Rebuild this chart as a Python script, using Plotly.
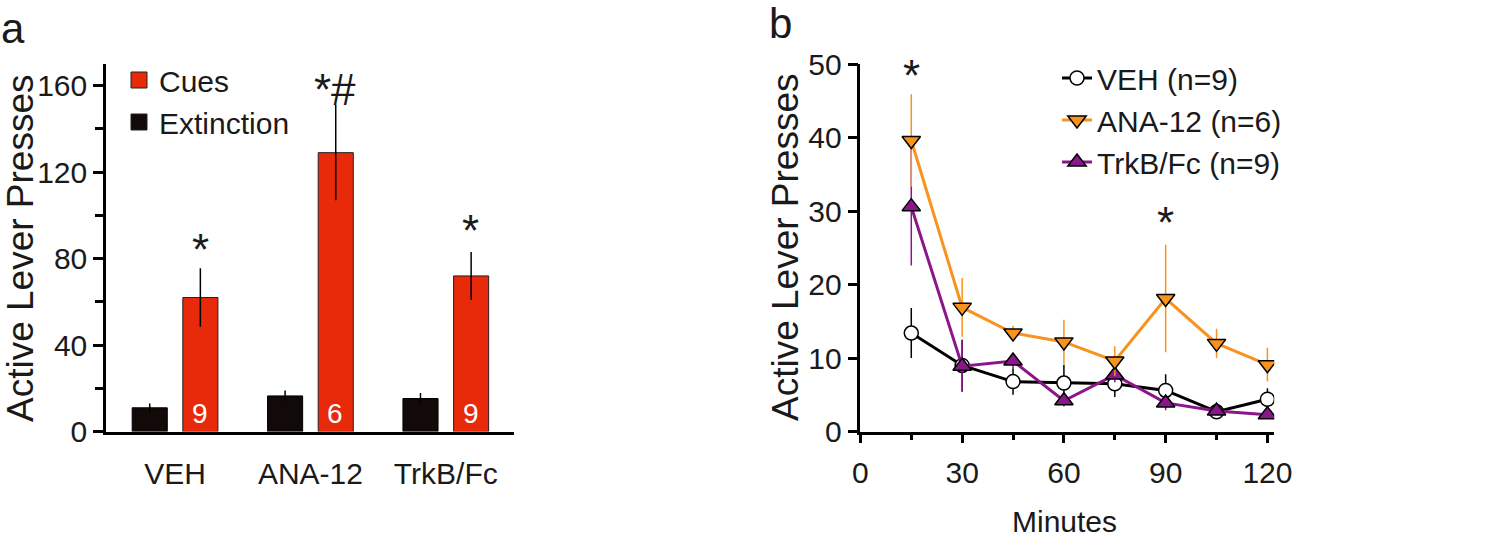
import plotly.graph_objects as go

# ---------------- data: panel a ----------------
groups = ["VEH", "ANA-12", "TrkB/Fc"]
extinction = [11.0, 16.5, 15.3]
extinction_err = [2.0, 2.5, 2.5]
cues = [62.0, 129.0, 72.0]
cues_err = [13.5, 22.0, 11.0]
n_labels = ["9", "6", "9"]
sig_a = ["*", "*#", "*"]
sig_a_y = [84, 158, 93]

# ---------------- data: panel b ----------------
minutes = [15, 30, 45, 60, 75, 90, 105, 120]
veh = [13.4, 9.0, 6.8, 6.6, 6.5, 5.6, 2.7, 4.4]
veh_err = [3.4, 3.5, 1.8, 2.5, 1.8, 2.2, 0.8, 1.5]
ana = [39.6, 16.9, 13.4, 12.2, 9.6, 18.1, 12.0, 9.1]
ana_err = [6.3, 4.0, 1.0, 3.0, 2.0, 7.3, 2.0, 2.3]
trkb = [30.6, 8.9, 9.6, 4.2, 7.7, 3.9, 2.8, 2.3]
trkb_err = [8.0, 3.5, 1.0, 0.8, 1.0, 1.0, 0.5, 0.5]
sig_b_x = [15, 90]
sig_b_y = [48.5, 28.5]

W, H = 1500, 553
FONT = "Liberation Sans, Arial, sans-serif"
TXT = "#1a1a1a"
RED = "#E8290A"
BLK = "#120909"
ORANGE = "#F7931E"
PURPLE = "#8B168B"
FS = 30

fig = go.Figure()

fig.add_trace(go.Bar(
    x=groups, y=extinction, name="Extinction", showlegend=False,
    marker=dict(color=BLK, line=dict(color="#000000", width=1)),
    error_y=dict(type="data", array=extinction_err, symmetric=True, visible=True,
                 color="#000000", thickness=1.5, width=0),
    xaxis="x", yaxis="y",
))
fig.add_trace(go.Bar(
    x=groups, y=cues, name="Cues", showlegend=False,
    marker=dict(color=RED, line=dict(color="#222222", width=1)),
    error_y=dict(type="data", array=cues_err, symmetric=True, visible=True,
                 color="#000000", thickness=1.5, width=0),
    xaxis="x", yaxis="y",
))
# legend entries for the bar series (larger swatches)
for nm, col, rk in [("Cues", RED, 1), ("Extinction", BLK, 2)]:
    fig.add_trace(go.Scatter(
        x=[None], y=[None], name=nm, mode="markers",
        marker=dict(symbol="square", size=22, color=col, line=dict(color="#222222", width=1)),
        xaxis="x", yaxis="y", legend="legend", legendrank=rk,
    ))

fig.add_trace(go.Scatter(
    x=minutes, y=veh, name="VEH (n=9)", mode="lines+markers",
    line=dict(color="#000000", width=3),
    marker=dict(symbol="circle", size=14, color="white", line=dict(color="#000000", width=1.5)),
    error_y=dict(type="data", array=veh_err, visible=True, color="#000000", thickness=1.5, width=0),
    xaxis="x2", yaxis="y2", legend="legend2", legendrank=1,
))
fig.add_trace(go.Scatter(
    x=minutes, y=trkb, name="TrkB/Fc (n=9)", mode="lines+markers",
    line=dict(color=PURPLE, width=3),
    marker=dict(symbol="triangle-up", size=16, color=PURPLE, line=dict(color="#000000", width=1.5)),
    error_y=dict(type="data", array=trkb_err, visible=True, color=PURPLE, thickness=1.5, width=0),
    xaxis="x2", yaxis="y2", legend="legend2", legendrank=3,
))
fig.add_trace(go.Scatter(
    x=minutes, y=ana, name="ANA-12 (n=6)", mode="lines+markers",
    line=dict(color=ORANGE, width=3),
    marker=dict(symbol="triangle-down", size=16, color=ORANGE, line=dict(color="#000000", width=1.5)),
    error_y=dict(type="data", array=ana_err, visible=True, color=ORANGE, thickness=1.5, width=0),
    xaxis="x2", yaxis="y2", legend="legend2", legendrank=2,
))

ydom = [1 - 431.6 / H, 1 - 64 / H]
axis_common = dict(showgrid=False, zeroline=False, showline=True, linewidth=2.5,
                   linecolor="#000000", tickcolor="#000000", automargin=False,
                   tickfont=dict(family=FONT, size=FS, color=TXT))

annotations = []
for g, t, yv in zip(groups, sig_a, sig_a_y):
    annotations.append(dict(x=g, y=yv, xref="x", yref="y", text=t, showarrow=False,
                            xshift=25, xanchor="center", yanchor="middle",
                            font=dict(family=FONT, size=44, color=TXT)))
for g, t in zip(groups, n_labels):
    annotations.append(dict(x=g, y=8.6, xref="x", yref="y", text=t, showarrow=False,
                            xshift=25, xanchor="center", yanchor="middle",
                            font=dict(family=FONT, size=28, color="white")))
for xv, yv in zip(sig_b_x, sig_b_y):
    annotations.append(dict(x=xv, y=yv, xref="x2", yref="y2", text="*", showarrow=False,
                            xanchor="center", yanchor="middle",
                            font=dict(family=FONT, size=44, color=TXT)))
annotations += [
    dict(x=20 / W, y=1 - 248 / H, xref="paper", yref="paper", text="Active Lever Presses",
         textangle=-90, showarrow=False, xanchor="center", yanchor="middle",
         font=dict(family=FONT, size=37, color=TXT)),
    dict(x=785 / W, y=1 - 247 / H, xref="paper", yref="paper", text="Active Lever Presses",
         textangle=-90, showarrow=False, xanchor="center", yanchor="middle",
         font=dict(family=FONT, size=37, color=TXT)),
    dict(x=1064 / W, y=1 - 521 / H, xref="paper", yref="paper", text="Minutes",
         showarrow=False, xanchor="center", yanchor="middle",
         font=dict(family=FONT, size=FS, color=TXT)),
    dict(x=13 / W, y=1 - 28 / H, xref="paper", yref="paper", text="a",
         showarrow=False, xanchor="center", yanchor="middle",
         font=dict(family=FONT, size=42, color=TXT)),
    dict(x=780 / W, y=1 - 24 / H, xref="paper", yref="paper", text="b",
         showarrow=False, xanchor="center", yanchor="middle",
         font=dict(family=FONT, size=42, color=TXT)),
]

fig.update_layout(
    width=W, height=H,
    margin=dict(l=0, r=0, t=0, b=0, autoexpand=False),
    paper_bgcolor="white", plot_bgcolor="white",
    font=dict(family=FONT, color=TXT),
    barmode="group", bargap=0.252, bargroupgap=0.307,
    showlegend=True,
    xaxis=dict(axis_common, domain=[106 / W, 513.5 / W], type="category",
               range=[-0.51, 2.5], ticks="", anchor="y", ticklabelstandoff=14),
    yaxis=dict(axis_common, domain=ydom, range=[0, 170], tickvals=[0, 40, 80, 120, 160],
               ticks="outside", ticklen=10, tickwidth=2.5, anchor="x",
               minor=dict(tickvals=[20, 60, 100, 140], ticks="outside", ticklen=8,
                          tickwidth=2.5, tickcolor="#000000")),
    xaxis2=dict(axis_common, domain=[860.4 / W, 1274.2 / W], range=[0, 122],
                tickvals=[0, 30, 60, 90, 120], ticks="outside", ticklen=9, tickwidth=2.5,
                anchor="y2", ticklabelstandoff=4,
                minor=dict(tickvals=[15, 45, 75, 105], ticks="outside", ticklen=6,
                           tickwidth=2.5, tickcolor="#000000")),
    yaxis2=dict(axis_common, domain=ydom, range=[0, 50], tickvals=[0, 10, 20, 30, 40, 50],
                ticks="outside", ticklen=10, tickwidth=2.5, anchor="x2"),
    legend=dict(x=119 / W, y=1 - 54 / H, xanchor="left", yanchor="top",
                traceorder="normal", bgcolor="rgba(0,0,0,0)", itemsizing="trace",
                font=dict(family=FONT, size=FS, color=TXT)),
    legend2=dict(x=1057 / W, y=1 - 52 / H, xanchor="left", yanchor="top",
                 traceorder="normal", bgcolor="rgba(0,0,0,0)",
                 font=dict(family=FONT, size=FS, color=TXT)),
    annotations=annotations,
)

fig.write_html("out.html", config={"displayModeBar": False},
               post_script="document.body.style.margin='0';")
